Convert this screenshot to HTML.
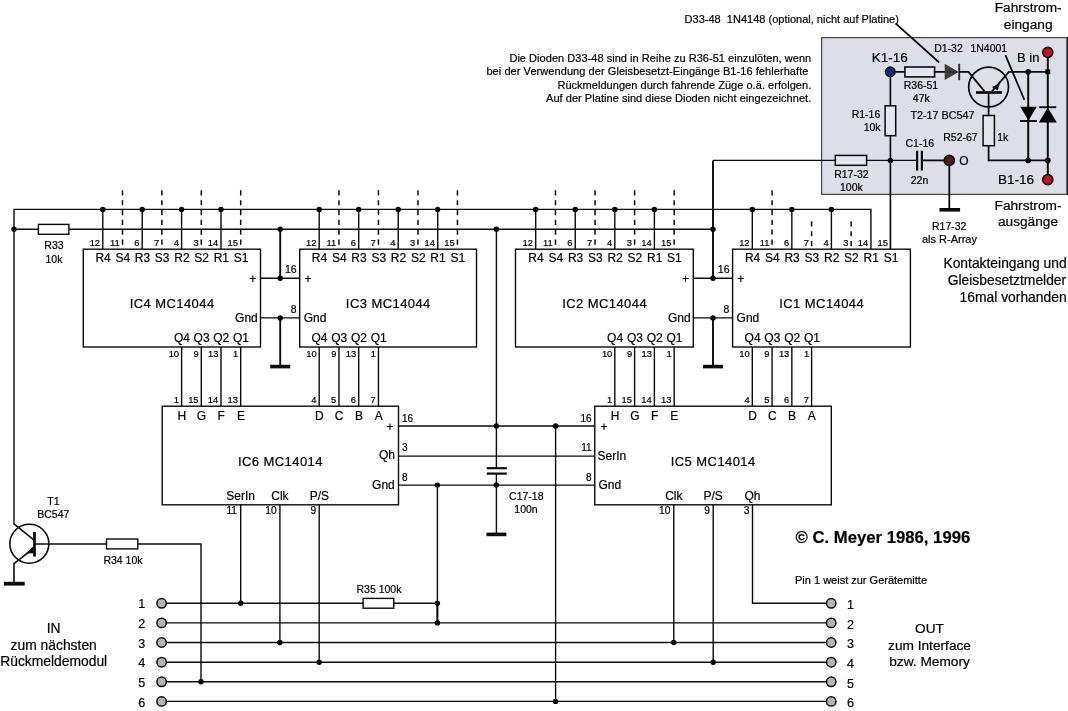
<!DOCTYPE html>
<html><head><meta charset="utf-8"><title>Schaltplan</title>
<style>
html,body{margin:0;padding:0;background:#fff;}
body{width:1068px;height:711px;overflow:hidden;font-family:"Liberation Sans",sans-serif;}
svg{display:block;will-change:transform;}
svg text{font-family:"Liberation Sans",sans-serif;}
</style></head><body>
<svg width="1068" height="711" viewBox="0 0 1068 711" stroke="#0a0a0a" fill="none" stroke-linecap="butt" stroke-linejoin="miter">
<rect x="0" y="0" width="1068" height="711" fill="#fff" stroke="none"/>
<rect x="821.6" y="37.6" width="245.6" height="156.8" fill="#dddee7" stroke="#44454c" stroke-width="1.2"/>
<line x1="1067.3" y1="37" x2="1067.3" y2="195" stroke-width="1.5" stroke="#26262a"/>
<polyline points="14.0,525 14.0,209.4 870.92,209.4 870.92,249.2" stroke-width="1.4" fill="none" />
<line x1="14.0" y1="229.2" x2="713" y2="229.2" stroke-width="1.4" />
<rect x="38.4" y="224.4" width="30.5" height="9.9" fill="#fff" stroke-width="1.4"/>
<circle cx="14.0" cy="229.2" r="2.7" fill="#000" stroke="none"/>
<line x1="102.8" y1="209.4" x2="102.8" y2="249.2" stroke-width="1.4" />
<circle cx="102.8" cy="209.4" r="2.7" fill="#000" stroke="none"/>
<line x1="142.2" y1="209.4" x2="142.2" y2="249.2" stroke-width="1.4" />
<circle cx="142.2" cy="209.4" r="2.7" fill="#000" stroke="none"/>
<line x1="181.6" y1="209.4" x2="181.6" y2="249.2" stroke-width="1.4" />
<circle cx="181.6" cy="209.4" r="2.7" fill="#000" stroke="none"/>
<line x1="221.0" y1="209.4" x2="221.0" y2="249.2" stroke-width="1.4" />
<circle cx="221.0" cy="209.4" r="2.7" fill="#000" stroke="none"/>
<line x1="122.5" y1="190.3" x2="122.5" y2="249.2" stroke-width="1.5" stroke-dasharray="5.2 4.63"/>
<line x1="161.9" y1="190.3" x2="161.9" y2="249.2" stroke-width="1.5" stroke-dasharray="5.2 4.63"/>
<line x1="201.3" y1="190.3" x2="201.3" y2="249.2" stroke-width="1.5" stroke-dasharray="5.2 4.63"/>
<line x1="240.7" y1="190.3" x2="240.7" y2="249.2" stroke-width="1.5" stroke-dasharray="5.2 4.63"/>
<line x1="319.2" y1="209.4" x2="319.2" y2="249.2" stroke-width="1.4" />
<circle cx="319.2" cy="209.4" r="2.7" fill="#000" stroke="none"/>
<line x1="358.7" y1="209.4" x2="358.7" y2="249.2" stroke-width="1.4" />
<circle cx="358.7" cy="209.4" r="2.7" fill="#000" stroke="none"/>
<line x1="398.2" y1="209.4" x2="398.2" y2="249.2" stroke-width="1.4" />
<circle cx="398.2" cy="209.4" r="2.7" fill="#000" stroke="none"/>
<line x1="437.7" y1="209.4" x2="437.7" y2="249.2" stroke-width="1.4" />
<circle cx="437.7" cy="209.4" r="2.7" fill="#000" stroke="none"/>
<line x1="338.95" y1="190.3" x2="338.95" y2="249.2" stroke-width="1.5" stroke-dasharray="5.2 4.63"/>
<line x1="378.45" y1="190.3" x2="378.45" y2="249.2" stroke-width="1.5" stroke-dasharray="5.2 4.63"/>
<line x1="417.95" y1="190.3" x2="417.95" y2="249.2" stroke-width="1.5" stroke-dasharray="5.2 4.63"/>
<line x1="457.45" y1="190.3" x2="457.45" y2="249.2" stroke-width="1.5" stroke-dasharray="5.2 4.63"/>
<line x1="535.7" y1="209.4" x2="535.7" y2="249.2" stroke-width="1.4" />
<circle cx="535.7" cy="209.4" r="2.7" fill="#000" stroke="none"/>
<line x1="575.26" y1="209.4" x2="575.26" y2="249.2" stroke-width="1.4" />
<circle cx="575.26" cy="209.4" r="2.7" fill="#000" stroke="none"/>
<line x1="614.82" y1="209.4" x2="614.82" y2="249.2" stroke-width="1.4" />
<circle cx="614.82" cy="209.4" r="2.7" fill="#000" stroke="none"/>
<line x1="654.38" y1="209.4" x2="654.38" y2="249.2" stroke-width="1.4" />
<circle cx="654.38" cy="209.4" r="2.7" fill="#000" stroke="none"/>
<line x1="555.48" y1="190.3" x2="555.48" y2="249.2" stroke-width="1.5" stroke-dasharray="5.2 4.63"/>
<line x1="595.04" y1="190.3" x2="595.04" y2="249.2" stroke-width="1.5" stroke-dasharray="5.2 4.63"/>
<line x1="634.6" y1="190.3" x2="634.6" y2="249.2" stroke-width="1.5" stroke-dasharray="5.2 4.63"/>
<line x1="674.16" y1="190.3" x2="674.16" y2="249.2" stroke-width="1.5" stroke-dasharray="5.2 4.63"/>
<line x1="752.3" y1="209.4" x2="752.3" y2="249.2" stroke-width="1.4" />
<circle cx="752.3" cy="209.4" r="2.7" fill="#000" stroke="none"/>
<line x1="791.84" y1="209.4" x2="791.84" y2="249.2" stroke-width="1.4" />
<circle cx="791.84" cy="209.4" r="2.7" fill="#000" stroke="none"/>
<line x1="831.38" y1="209.4" x2="831.38" y2="249.2" stroke-width="1.4" />
<circle cx="831.38" cy="209.4" r="2.7" fill="#000" stroke="none"/>
<line x1="772.07" y1="190.3" x2="772.07" y2="249.2" stroke-width="1.5" stroke-dasharray="5.2 4.63"/>
<line x1="811.61" y1="221.3" x2="811.61" y2="249.2" stroke-width="1.5" stroke-dasharray="5.2 4.63"/>
<line x1="851.15" y1="221.3" x2="851.15" y2="249.2" stroke-width="1.5" stroke-dasharray="5.2 4.63"/>
<rect x="83.3" y="249.2" width="177.2" height="97.8" fill="#fff" stroke-width="1.4"/>
<rect x="299.7" y="249.2" width="176.8" height="97.8" fill="#fff" stroke-width="1.4"/>
<rect x="515.5" y="249.2" width="177.8" height="97.8" fill="#fff" stroke-width="1.4"/>
<rect x="732.6" y="249.2" width="177.8" height="97.8" fill="#fff" stroke-width="1.4"/>
<line x1="260.5" y1="278.3" x2="299.7" y2="278.3" stroke-width="1.4" />
<line x1="260.5" y1="317.9" x2="299.7" y2="317.9" stroke-width="1.4" />
<line x1="280.2" y1="229.2" x2="280.2" y2="278.3" stroke-width="1.9" />
<line x1="280.2" y1="317.9" x2="280.2" y2="366.6" stroke-width="1.9" />
<circle cx="280.2" cy="229.2" r="2.7" fill="#000" stroke="none"/>
<circle cx="280.2" cy="278.3" r="2.7" fill="#000" stroke="none"/>
<circle cx="280.2" cy="317.9" r="2.7" fill="#000" stroke="none"/>
<line x1="270.2" y1="366.6" x2="290.2" y2="366.6" stroke-width="3.6" />
<line x1="693.3" y1="278.3" x2="732.6" y2="278.3" stroke-width="1.4" />
<line x1="693.3" y1="317.9" x2="732.6" y2="317.9" stroke-width="1.4" />
<line x1="713.0" y1="160.4" x2="713.0" y2="278.3" stroke-width="1.9" />
<line x1="713.0" y1="317.9" x2="713.0" y2="366.6" stroke-width="1.9" />
<circle cx="713.0" cy="229.2" r="2.7" fill="#000" stroke="none"/>
<circle cx="713.0" cy="278.3" r="2.7" fill="#000" stroke="none"/>
<circle cx="713.0" cy="317.9" r="2.7" fill="#000" stroke="none"/>
<line x1="703.0" y1="366.6" x2="723.0" y2="366.6" stroke-width="3.6" />
<line x1="181.6" y1="347.0" x2="181.6" y2="406.2" stroke-width="1.4" />
<line x1="201.3" y1="347.0" x2="201.3" y2="406.2" stroke-width="1.4" />
<line x1="221.0" y1="347.0" x2="221.0" y2="406.2" stroke-width="1.4" />
<line x1="240.7" y1="347.0" x2="240.7" y2="406.2" stroke-width="1.4" />
<line x1="614.82" y1="347.0" x2="614.82" y2="406.2" stroke-width="1.4" />
<line x1="634.6" y1="347.0" x2="634.6" y2="406.2" stroke-width="1.4" />
<line x1="654.38" y1="347.0" x2="654.38" y2="406.2" stroke-width="1.4" />
<line x1="674.16" y1="347.0" x2="674.16" y2="406.2" stroke-width="1.4" />
<line x1="319.2" y1="347.0" x2="319.2" y2="406.2" stroke-width="1.4" />
<line x1="338.95" y1="347.0" x2="338.95" y2="406.2" stroke-width="1.4" />
<line x1="358.7" y1="347.0" x2="358.7" y2="406.2" stroke-width="1.4" />
<line x1="378.45" y1="347.0" x2="378.45" y2="406.2" stroke-width="1.4" />
<line x1="752.3" y1="347.0" x2="752.3" y2="406.2" stroke-width="1.4" />
<line x1="772.07" y1="347.0" x2="772.07" y2="406.2" stroke-width="1.4" />
<line x1="791.84" y1="347.0" x2="791.84" y2="406.2" stroke-width="1.4" />
<line x1="811.61" y1="347.0" x2="811.61" y2="406.2" stroke-width="1.4" />
<rect x="162.2" y="406.2" width="236.3" height="98.6" fill="#fff" stroke-width="1.4"/>
<rect x="594.8" y="406.2" width="236.5" height="98.6" fill="#fff" stroke-width="1.4"/>
<line x1="398.5" y1="426.0" x2="594.8" y2="426.0" stroke-width="1.4" />
<line x1="398.5" y1="456.1" x2="594.8" y2="456.1" stroke-width="1.4" />
<line x1="398.5" y1="485.1" x2="594.8" y2="485.1" stroke-width="1.4" />
<line x1="496.4" y1="229.2" x2="496.4" y2="468.2" stroke-width="1.4" />
<line x1="496.4" y1="473.4" x2="496.4" y2="534.4" stroke-width="1.4" />
<line x1="486.8" y1="468.2" x2="506.8" y2="468.2" stroke-width="2.2" />
<line x1="486.8" y1="473.6" x2="506.8" y2="473.6" stroke-width="2.2" />
<line x1="486.4" y1="534.4" x2="506.4" y2="534.4" stroke-width="3.6" />
<circle cx="496.4" cy="229.2" r="2.7" fill="#000" stroke="none"/>
<circle cx="496.4" cy="426.0" r="2.7" fill="#000" stroke="none"/>
<circle cx="496.4" cy="485.1" r="2.7" fill="#000" stroke="none"/>
<line x1="555.6" y1="426.0" x2="555.6" y2="701.4" stroke-width="1.4" />
<circle cx="555.6" cy="426.0" r="2.7" fill="#000" stroke="none"/>
<circle cx="555.6" cy="701.4" r="2.7" fill="#000" stroke="none"/>
<line x1="437.4" y1="485.1" x2="437.4" y2="622.9" stroke-width="1.4" />
<line x1="437.4" y1="603.3" x2="437.4" y2="622.9" stroke-width="1.9" />
<circle cx="437.4" cy="485.1" r="2.7" fill="#000" stroke="none"/>
<circle cx="437.4" cy="603.3" r="2.7" fill="#000" stroke="none"/>
<circle cx="437.4" cy="622.9" r="2.7" fill="#000" stroke="none"/>
<line x1="240.7" y1="504.8" x2="240.7" y2="603.3" stroke-width="1.4" />
<circle cx="240.7" cy="603.3" r="2.7" fill="#000" stroke="none"/>
<line x1="279.9" y1="504.8" x2="279.9" y2="642.5" stroke-width="1.4" />
<circle cx="279.9" cy="642.5" r="2.7" fill="#000" stroke="none"/>
<line x1="319.2" y1="504.8" x2="319.2" y2="662.2" stroke-width="1.4" />
<circle cx="319.2" cy="662.2" r="2.7" fill="#000" stroke="none"/>
<line x1="673.8" y1="504.8" x2="673.8" y2="642.5" stroke-width="1.4" />
<circle cx="673.8" cy="642.5" r="2.7" fill="#000" stroke="none"/>
<line x1="713.2" y1="504.8" x2="713.2" y2="662.2" stroke-width="1.4" />
<circle cx="713.2" cy="662.2" r="2.7" fill="#000" stroke="none"/>
<polyline points="752.5,504.8 752.5,603.3 831.2,603.3" stroke-width="1.4" fill="none" />
<line x1="161.6" y1="603.3" x2="437.4" y2="603.3" stroke-width="1.4" />
<rect x="363.1" y="598.4" width="30.7" height="9.8" fill="#fff" stroke-width="1.4"/>
<line x1="161.6" y1="622.9" x2="831.2" y2="622.9" stroke-width="1.4" />
<line x1="161.6" y1="642.5" x2="831.2" y2="642.5" stroke-width="1.4" />
<line x1="161.6" y1="662.2" x2="831.2" y2="662.2" stroke-width="1.4" />
<line x1="161.6" y1="681.8" x2="831.2" y2="681.8" stroke-width="1.4" />
<line x1="161.6" y1="701.4" x2="831.2" y2="701.4" stroke-width="1.4" />
<polyline points="34.5,544.0 201.0,544.0 201.0,681.8" stroke-width="1.4" fill="none" />
<circle cx="201.0" cy="681.8" r="2.7" fill="#000" stroke="none"/>
<rect x="106.5" y="539.0" width="31.3" height="9.9" fill="#fff" stroke-width="1.4"/>
<circle cx="29.35" cy="543.75" r="19.5" fill="none" stroke-width="1.6"/>
<line x1="34.5" y1="532.0" x2="34.5" y2="556.6" stroke-width="2.7" />
<polyline points="14.0,523.9 34.4,540.3" stroke-width="1.6" fill="none" />
<polyline points="34.4,547.6 14.0,563.6 14.0,583.7" stroke-width="1.6" fill="none" />
<polygon points="25.8,553.6 33.4,546.2 33.4,553.2" fill="#000" stroke="none"/>
<line x1="3.9000000000000004" y1="583.7" x2="24.700000000000003" y2="583.7" stroke-width="3.8" />
<circle cx="161.6" cy="603.3" r="4.7" fill="#b4b4b4" stroke-width="1.5"/>
<circle cx="831.2" cy="603.3" r="4.7" fill="#b4b4b4" stroke-width="1.5"/>
<circle cx="161.6" cy="622.9" r="4.7" fill="#b4b4b4" stroke-width="1.5"/>
<circle cx="831.2" cy="622.9" r="4.7" fill="#b4b4b4" stroke-width="1.5"/>
<circle cx="161.6" cy="642.5" r="4.7" fill="#b4b4b4" stroke-width="1.5"/>
<circle cx="831.2" cy="642.5" r="4.7" fill="#b4b4b4" stroke-width="1.5"/>
<circle cx="161.6" cy="662.2" r="4.7" fill="#b4b4b4" stroke-width="1.5"/>
<circle cx="831.2" cy="662.2" r="4.7" fill="#b4b4b4" stroke-width="1.5"/>
<circle cx="161.6" cy="681.8" r="4.7" fill="#b4b4b4" stroke-width="1.5"/>
<circle cx="831.2" cy="681.8" r="4.7" fill="#b4b4b4" stroke-width="1.5"/>
<circle cx="161.6" cy="701.4" r="4.7" fill="#b4b4b4" stroke-width="1.5"/>
<circle cx="831.2" cy="701.4" r="4.7" fill="#b4b4b4" stroke-width="1.5"/>
<line x1="890.4" y1="71.9" x2="890.4" y2="249.2" stroke-width="1.65" />
<polyline points="713.0,160.4 917.1,160.4" stroke-width="1.35" fill="none" />
<line x1="921.9" y1="160.4" x2="949.3" y2="160.4" stroke-width="1.8" />
<line x1="917.1" y1="150.8" x2="917.1" y2="170.6" stroke-width="2.2" />
<line x1="921.9" y1="150.8" x2="921.9" y2="170.6" stroke-width="2.2" />
<line x1="949.3" y1="160.4" x2="949.3" y2="209.8" stroke-width="1.8" />
<line x1="939.5" y1="209.8" x2="960.0999999999999" y2="209.8" stroke-width="3.6" />
<rect x="835.3" y="155.4" width="31.3" height="9.9" fill="#e4e5ed" stroke-width="1.5"/>
<rect x="885.1" y="105.8" width="10.6" height="29.9" fill="#e4e5ed" stroke-width="1.5"/>
<circle cx="890.4" cy="160.4" r="2.7" fill="#000" stroke="none"/>
<line x1="890.4" y1="71.9" x2="945" y2="71.9" stroke-width="1.8" />
<rect x="904.9" y="67.0" width="29.7" height="9.9" fill="#e4e5ed" stroke-width="1.6"/>
<polygon points="944.7,63.7 944.7,80.1 958.8,71.9" fill="#3e3e3e" stroke="none"/>
<line x1="946.5" y1="71.9" x2="957" y2="71.9" stroke-width="1.6" stroke="#1c1c1c" stroke-dasharray="1.6 1.6"/>
<line x1="959.2" y1="63.8" x2="959.2" y2="80.2" stroke-width="1.9" stroke="#2a2a2a"/>
<polyline points="959,71.9 968.5,71.9 984.8,91.6" stroke-width="1.8" fill="none" />
<polyline points="991.7,91.6 1008.9,71.9 1047.8,71.9" stroke-width="1.8" fill="none" />
<circle cx="988.6" cy="87.0" r="19.9" fill="none" stroke-width="1.7"/>
<line x1="976.0" y1="92.5" x2="1001.9" y2="92.5" stroke-width="2.7" />
<polygon points="992.0,87.1 999.8,83.5 997.8,90.5" fill="#000" stroke="none"/>
<line x1="988.6" y1="92.5" x2="988.6" y2="115.5" stroke-width="1.8" />
<rect x="983.1" y="115.5" width="11.3" height="30.2" fill="#e4e5ed" stroke-width="1.5"/>
<polyline points="988.6,145.7 988.6,160.4 1047.8,160.4" stroke-width="1.8" fill="none" />
<line x1="1047.8" y1="52.3" x2="1047.8" y2="179.7" stroke-width="2.0" />
<line x1="1028.2" y1="71.9" x2="1028.2" y2="160.4" stroke-width="2.0" />
<circle cx="1028.2" cy="71.9" r="2.8" fill="#000" stroke="none"/>
<rect x="1045.4" y="69.4" width="4.8" height="4.8" fill="#000" stroke="none"/>
<circle cx="1028.2" cy="160.4" r="2.8" fill="#000" stroke="none"/>
<circle cx="1047.8" cy="160.4" r="2.8" fill="#000" stroke="none"/>
<polygon points="1020.2,106.8 1036.8,106.8 1028.5,120.4" fill="#000" stroke="none"/>
<line x1="1020.0" y1="121.0" x2="1036.9" y2="121.0" stroke-width="1.9" />
<polygon points="1038.8,122.4 1056.8,122.4 1047.8,107.6" fill="#000" stroke="none"/>
<line x1="1039.2" y1="107.2" x2="1056.2" y2="107.2" stroke-width="1.9" />
<line x1="1005.4" y1="55.2" x2="1024.4" y2="99.9" stroke-width="1.75" />
<line x1="895.6" y1="23.4" x2="939.2" y2="62.5" stroke-width="1.75" />
<circle cx="890.3" cy="71.8" r="4.8" fill="#0a2c7e" stroke-width="1.4"/>
<circle cx="1047.8" cy="52.3" r="5.0" fill="#c8121f" stroke-width="1.7"/>
<circle cx="1047.8" cy="179.7" r="5.0" fill="#c8121f" stroke-width="1.7"/>
<circle cx="949.3" cy="160.4" r="5.0" fill="#5c1a1c" stroke-width="1.7"/>
<g fill="#000" stroke="#000" stroke-width="0.2">
<text x="103.1" y="262.3" font-size="12" text-anchor="middle">R4</text>
<text x="100.1" y="246.0" font-size="9.4" text-anchor="end">12</text>
<text x="122.8" y="262.3" font-size="12" text-anchor="middle">S4</text>
<text x="119.8" y="246.0" font-size="9.4" text-anchor="end">11</text>
<text x="142.5" y="262.3" font-size="12" text-anchor="middle">R3</text>
<text x="139.5" y="246.0" font-size="9.4" text-anchor="end">6</text>
<text x="162.20000000000002" y="262.3" font-size="12" text-anchor="middle">S3</text>
<text x="159.20000000000002" y="246.0" font-size="9.4" text-anchor="end">7</text>
<text x="181.9" y="262.3" font-size="12" text-anchor="middle">R2</text>
<text x="178.9" y="246.0" font-size="9.4" text-anchor="end">4</text>
<text x="201.60000000000002" y="262.3" font-size="12" text-anchor="middle">S2</text>
<text x="198.60000000000002" y="246.0" font-size="9.4" text-anchor="end">3</text>
<text x="221.3" y="262.3" font-size="12" text-anchor="middle">R1</text>
<text x="218.3" y="246.0" font-size="9.4" text-anchor="end">14</text>
<text x="241.0" y="262.3" font-size="12" text-anchor="middle">S1</text>
<text x="238.0" y="246.0" font-size="9.4" text-anchor="end">15</text>
<text x="181.9" y="341.8" font-size="12" text-anchor="middle">Q4</text>
<text x="179.1" y="357.1" font-size="9.4" text-anchor="end">10</text>
<text x="201.60000000000002" y="341.8" font-size="12" text-anchor="middle">Q3</text>
<text x="198.8" y="357.1" font-size="9.4" text-anchor="end">9</text>
<text x="221.3" y="341.8" font-size="12" text-anchor="middle">Q2</text>
<text x="218.5" y="357.1" font-size="9.4" text-anchor="end">13</text>
<text x="241.0" y="341.8" font-size="12" text-anchor="middle">Q1</text>
<text x="238.2" y="357.1" font-size="9.4" text-anchor="end">1</text>
<text x="171.9" y="308.2" font-size="13" text-anchor="middle" textLength="84.5" lengthAdjust="spacing">IC4 MC14044</text>
<text x="252.8" y="283.2" font-size="12" text-anchor="middle">+</text>
<text x="257.8" y="321.6" font-size="12" text-anchor="end">Gnd</text>
<text x="319.5" y="262.3" font-size="12" text-anchor="middle">R4</text>
<text x="316.5" y="246.0" font-size="9.4" text-anchor="end">12</text>
<text x="339.25" y="262.3" font-size="12" text-anchor="middle">S4</text>
<text x="336.25" y="246.0" font-size="9.4" text-anchor="end">11</text>
<text x="359.0" y="262.3" font-size="12" text-anchor="middle">R3</text>
<text x="356.0" y="246.0" font-size="9.4" text-anchor="end">6</text>
<text x="378.75" y="262.3" font-size="12" text-anchor="middle">S3</text>
<text x="375.75" y="246.0" font-size="9.4" text-anchor="end">7</text>
<text x="398.5" y="262.3" font-size="12" text-anchor="middle">R2</text>
<text x="395.5" y="246.0" font-size="9.4" text-anchor="end">4</text>
<text x="418.25" y="262.3" font-size="12" text-anchor="middle">S2</text>
<text x="415.25" y="246.0" font-size="9.4" text-anchor="end">3</text>
<text x="438.0" y="262.3" font-size="12" text-anchor="middle">R1</text>
<text x="435.0" y="246.0" font-size="9.4" text-anchor="end">14</text>
<text x="457.75" y="262.3" font-size="12" text-anchor="middle">S1</text>
<text x="454.75" y="246.0" font-size="9.4" text-anchor="end">15</text>
<text x="319.5" y="341.8" font-size="12" text-anchor="middle">Q4</text>
<text x="316.7" y="357.1" font-size="9.4" text-anchor="end">10</text>
<text x="339.25" y="341.8" font-size="12" text-anchor="middle">Q3</text>
<text x="336.45" y="357.1" font-size="9.4" text-anchor="end">9</text>
<text x="359.0" y="341.8" font-size="12" text-anchor="middle">Q2</text>
<text x="356.2" y="357.1" font-size="9.4" text-anchor="end">13</text>
<text x="378.75" y="341.8" font-size="12" text-anchor="middle">Q1</text>
<text x="375.95" y="357.1" font-size="9.4" text-anchor="end">1</text>
<text x="388.1" y="308.2" font-size="13" text-anchor="middle" textLength="84.5" lengthAdjust="spacing">IC3 MC14044</text>
<text x="307.9" y="283.2" font-size="12" text-anchor="middle">+</text>
<text x="303.7" y="321.6" font-size="12">Gnd</text>
<text x="536.0" y="262.3" font-size="12" text-anchor="middle">R4</text>
<text x="533.0" y="246.0" font-size="9.4" text-anchor="end">12</text>
<text x="555.78" y="262.3" font-size="12" text-anchor="middle">S4</text>
<text x="552.78" y="246.0" font-size="9.4" text-anchor="end">11</text>
<text x="575.56" y="262.3" font-size="12" text-anchor="middle">R3</text>
<text x="572.56" y="246.0" font-size="9.4" text-anchor="end">6</text>
<text x="595.3399999999999" y="262.3" font-size="12" text-anchor="middle">S3</text>
<text x="592.3399999999999" y="246.0" font-size="9.4" text-anchor="end">7</text>
<text x="615.12" y="262.3" font-size="12" text-anchor="middle">R2</text>
<text x="612.12" y="246.0" font-size="9.4" text-anchor="end">4</text>
<text x="634.9" y="262.3" font-size="12" text-anchor="middle">S2</text>
<text x="631.9" y="246.0" font-size="9.4" text-anchor="end">3</text>
<text x="654.68" y="262.3" font-size="12" text-anchor="middle">R1</text>
<text x="651.68" y="246.0" font-size="9.4" text-anchor="end">14</text>
<text x="674.4599999999999" y="262.3" font-size="12" text-anchor="middle">S1</text>
<text x="671.4599999999999" y="246.0" font-size="9.4" text-anchor="end">15</text>
<text x="615.12" y="341.8" font-size="12" text-anchor="middle">Q4</text>
<text x="612.32" y="357.1" font-size="9.4" text-anchor="end">10</text>
<text x="634.9" y="341.8" font-size="12" text-anchor="middle">Q3</text>
<text x="632.1" y="357.1" font-size="9.4" text-anchor="end">9</text>
<text x="654.68" y="341.8" font-size="12" text-anchor="middle">Q2</text>
<text x="651.88" y="357.1" font-size="9.4" text-anchor="end">13</text>
<text x="674.4599999999999" y="341.8" font-size="12" text-anchor="middle">Q1</text>
<text x="671.66" y="357.1" font-size="9.4" text-anchor="end">1</text>
<text x="604.4" y="308.2" font-size="13" text-anchor="middle" textLength="84.5" lengthAdjust="spacing">IC2 MC14044</text>
<text x="685.5999999999999" y="283.2" font-size="12" text-anchor="middle">+</text>
<text x="690.5999999999999" y="321.6" font-size="12" text-anchor="end">Gnd</text>
<text x="752.5999999999999" y="262.3" font-size="12" text-anchor="middle">R4</text>
<text x="749.5999999999999" y="246.0" font-size="9.4" text-anchor="end">12</text>
<text x="772.37" y="262.3" font-size="12" text-anchor="middle">S4</text>
<text x="769.37" y="246.0" font-size="9.4" text-anchor="end">11</text>
<text x="792.14" y="262.3" font-size="12" text-anchor="middle">R3</text>
<text x="789.14" y="246.0" font-size="9.4" text-anchor="end">6</text>
<text x="811.91" y="262.3" font-size="12" text-anchor="middle">S3</text>
<text x="808.91" y="246.0" font-size="9.4" text-anchor="end">7</text>
<text x="831.68" y="262.3" font-size="12" text-anchor="middle">R2</text>
<text x="828.68" y="246.0" font-size="9.4" text-anchor="end">4</text>
<text x="851.4499999999999" y="262.3" font-size="12" text-anchor="middle">S2</text>
<text x="848.4499999999999" y="246.0" font-size="9.4" text-anchor="end">3</text>
<text x="871.2199999999999" y="262.3" font-size="12" text-anchor="middle">R1</text>
<text x="868.2199999999999" y="246.0" font-size="9.4" text-anchor="end">14</text>
<text x="890.99" y="262.3" font-size="12" text-anchor="middle">S1</text>
<text x="887.99" y="246.0" font-size="9.4" text-anchor="end">15</text>
<text x="752.5999999999999" y="341.8" font-size="12" text-anchor="middle">Q4</text>
<text x="749.8" y="357.1" font-size="9.4" text-anchor="end">10</text>
<text x="772.37" y="341.8" font-size="12" text-anchor="middle">Q3</text>
<text x="769.57" y="357.1" font-size="9.4" text-anchor="end">9</text>
<text x="792.14" y="341.8" font-size="12" text-anchor="middle">Q2</text>
<text x="789.34" y="357.1" font-size="9.4" text-anchor="end">13</text>
<text x="811.91" y="341.8" font-size="12" text-anchor="middle">Q1</text>
<text x="809.11" y="357.1" font-size="9.4" text-anchor="end">1</text>
<text x="821.5" y="308.2" font-size="13" text-anchor="middle" textLength="84.5" lengthAdjust="spacing">IC1 MC14044</text>
<text x="740.8000000000001" y="283.2" font-size="12" text-anchor="middle">+</text>
<text x="736.6" y="321.6" font-size="12">Gnd</text>
<text x="296.7" y="273.4" font-size="10.6" text-anchor="end">16</text>
<text x="296.5" y="313.1" font-size="10.4" text-anchor="end">8</text>
<text x="729.6" y="273.4" font-size="10.6" text-anchor="end">16</text>
<text x="729.4" y="313.1" font-size="10.4" text-anchor="end">8</text>
<text x="178.9" y="402.7" font-size="9.4" text-anchor="end">1</text>
<text x="181.79999999999998" y="419.6" font-size="12" text-anchor="middle">H</text>
<text x="198.60000000000002" y="402.7" font-size="9.4" text-anchor="end">15</text>
<text x="201.5" y="419.6" font-size="12" text-anchor="middle">G</text>
<text x="218.3" y="402.7" font-size="9.4" text-anchor="end">14</text>
<text x="221.2" y="419.6" font-size="12" text-anchor="middle">F</text>
<text x="238.0" y="402.7" font-size="9.4" text-anchor="end">13</text>
<text x="240.89999999999998" y="419.6" font-size="12" text-anchor="middle">E</text>
<text x="316.5" y="402.7" font-size="9.4" text-anchor="end">4</text>
<text x="319.4" y="419.6" font-size="12" text-anchor="middle">D</text>
<text x="336.25" y="402.7" font-size="9.4" text-anchor="end">5</text>
<text x="339.15" y="419.6" font-size="12" text-anchor="middle">C</text>
<text x="356.0" y="402.7" font-size="9.4" text-anchor="end">6</text>
<text x="358.9" y="419.6" font-size="12" text-anchor="middle">B</text>
<text x="375.75" y="402.7" font-size="9.4" text-anchor="end">7</text>
<text x="378.65" y="419.6" font-size="12" text-anchor="middle">A</text>
<text x="612.12" y="402.7" font-size="9.4" text-anchor="end">1</text>
<text x="615.0200000000001" y="419.6" font-size="12" text-anchor="middle">H</text>
<text x="631.9" y="402.7" font-size="9.4" text-anchor="end">15</text>
<text x="634.8000000000001" y="419.6" font-size="12" text-anchor="middle">G</text>
<text x="651.68" y="402.7" font-size="9.4" text-anchor="end">14</text>
<text x="654.58" y="419.6" font-size="12" text-anchor="middle">F</text>
<text x="671.4599999999999" y="402.7" font-size="9.4" text-anchor="end">13</text>
<text x="674.36" y="419.6" font-size="12" text-anchor="middle">E</text>
<text x="749.5999999999999" y="402.7" font-size="9.4" text-anchor="end">4</text>
<text x="752.5" y="419.6" font-size="12" text-anchor="middle">D</text>
<text x="769.37" y="402.7" font-size="9.4" text-anchor="end">5</text>
<text x="772.2700000000001" y="419.6" font-size="12" text-anchor="middle">C</text>
<text x="789.14" y="402.7" font-size="9.4" text-anchor="end">6</text>
<text x="792.0400000000001" y="419.6" font-size="12" text-anchor="middle">B</text>
<text x="808.91" y="402.7" font-size="9.4" text-anchor="end">7</text>
<text x="811.8100000000001" y="419.6" font-size="12" text-anchor="middle">A</text>
<text x="280.2" y="466.0" font-size="13" text-anchor="middle" textLength="84.5" lengthAdjust="spacing">IC6 MC14014</text>
<text x="713.0" y="466.0" font-size="13" text-anchor="middle" textLength="84.5" lengthAdjust="spacing">IC5 MC14014</text>
<text x="389.9" y="431.0" font-size="12" text-anchor="middle">+</text>
<text x="395.0" y="459.2" font-size="12" text-anchor="end">Qh</text>
<text x="394.8" y="488.6" font-size="12" text-anchor="end">Gnd</text>
<text x="402.0" y="421.8" font-size="10">16</text>
<text x="402.0" y="451.4" font-size="10">3</text>
<text x="402.0" y="480.6" font-size="10">8</text>
<text x="591.6" y="421.8" font-size="10" text-anchor="end">16</text>
<text x="591.6" y="451.4" font-size="10" text-anchor="end">11</text>
<text x="591.6" y="480.6" font-size="10" text-anchor="end">8</text>
<text x="603.9" y="431.0" font-size="12" text-anchor="middle">+</text>
<text x="597.6" y="459.5" font-size="12">SerIn</text>
<text x="598.4" y="488.6" font-size="12">Gnd</text>
<text x="240.7" y="500.3" font-size="12" text-anchor="middle">SerIn</text>
<text x="279.9" y="500.3" font-size="12" text-anchor="middle">Clk</text>
<text x="319.4" y="500.3" font-size="12" text-anchor="middle">P/S</text>
<text x="673.8" y="500.3" font-size="12" text-anchor="middle">Clk</text>
<text x="713.2" y="500.3" font-size="12" text-anchor="middle">P/S</text>
<text x="752.5" y="500.3" font-size="12" text-anchor="middle">Qh</text>
<text x="237.0" y="514.2" font-size="10.2" text-anchor="end">11</text>
<text x="276.6" y="514.2" font-size="10.2" text-anchor="end">10</text>
<text x="316.2" y="514.2" font-size="10.2" text-anchor="end">9</text>
<text x="670.4" y="514.2" font-size="10.2" text-anchor="end">10</text>
<text x="710.0" y="514.2" font-size="10.2" text-anchor="end">9</text>
<text x="749.3" y="514.2" font-size="10.2" text-anchor="end">3</text>
<text x="54.0" y="249.4" font-size="10.5" text-anchor="middle">R33</text>
<text x="54.0" y="262.9" font-size="10.5" text-anchor="middle">10k</text>
<text x="53.5" y="505.2" font-size="10.5" text-anchor="middle">T1</text>
<text x="53.3" y="518.1" font-size="10.5" text-anchor="middle">BC547</text>
<text x="123.0" y="564.2" font-size="10.5" text-anchor="middle">R34 10k</text>
<text x="379.0" y="593.4" font-size="10.5" text-anchor="middle">R35 100k</text>
<text x="526.3" y="499.7" font-size="10.5" text-anchor="middle">C17-18</text>
<text x="526.0" y="512.9" font-size="10.5" text-anchor="middle">100n</text>
<text x="795.6" y="542.7" font-size="16.7" font-weight="bold">© C. Meyer 1986, 1996</text>
<text x="795.0" y="584.0" font-size="11">Pin 1 weist zur Gerätemitte</text>
<text x="141.8" y="608.4" font-size="12.6" text-anchor="middle">1</text>
<text x="850.5" y="609.0" font-size="12.6" text-anchor="middle">1</text>
<text x="141.8" y="628.0" font-size="12.6" text-anchor="middle">2</text>
<text x="850.5" y="628.6" font-size="12.6" text-anchor="middle">2</text>
<text x="141.8" y="647.6" font-size="12.6" text-anchor="middle">3</text>
<text x="850.5" y="648.2" font-size="12.6" text-anchor="middle">3</text>
<text x="141.8" y="667.3000000000001" font-size="12.6" text-anchor="middle">4</text>
<text x="850.5" y="667.9000000000001" font-size="12.6" text-anchor="middle">4</text>
<text x="141.8" y="686.9" font-size="12.6" text-anchor="middle">5</text>
<text x="850.5" y="687.5" font-size="12.6" text-anchor="middle">5</text>
<text x="141.8" y="706.5" font-size="12.6" text-anchor="middle">6</text>
<text x="850.5" y="707.1" font-size="12.6" text-anchor="middle">6</text>
<text x="53.7" y="633.0" font-size="13.85" text-anchor="middle">IN</text>
<text x="53.7" y="649.5" font-size="13.85" text-anchor="middle">zum nächsten</text>
<text x="53.7" y="666.0" font-size="13.85" text-anchor="middle">Rückmeldemodul</text>
<text x="929.5" y="632.7" font-size="13.7" text-anchor="middle">OUT</text>
<text x="929.5" y="650.0" font-size="13.7" text-anchor="middle">zum Interface</text>
<text x="929.5" y="665.9" font-size="13.7" text-anchor="middle">bzw. Memory</text>
<text x="684.6" y="22.6" font-size="11" textLength="214.3" lengthAdjust="spacing" xml:space="preserve">D33-48  1N4148 (optional, nicht auf Platine)</text>
<text x="509.4" y="61.6" font-size="11" textLength="301.8" lengthAdjust="spacing">Die Dioden D33-48 sind in Reihe zu R36-51 einzulöten, wenn</text>
<text x="486.4" y="75.2" font-size="11" textLength="322.0" lengthAdjust="spacing">bei der Verwendung der Gleisbesetzt-Eingänge B1-16 fehlerhafte</text>
<text x="557.4" y="88.5" font-size="11" textLength="253.8" lengthAdjust="spacing">Rückmeldungen durch fahrende Züge o.ä. erfolgen.</text>
<text x="546.0" y="102.1" font-size="11" textLength="265.2" lengthAdjust="spacing">Auf der Platine sind diese Dioden nicht eingezeichnet.</text>
<text x="1028.2" y="12.2" font-size="13.7" text-anchor="middle">Fahrstrom-</text>
<text x="1028.2" y="28.5" font-size="13.7" text-anchor="middle">eingang</text>
<text x="1028.0" y="209.5" font-size="13.7" text-anchor="middle">Fahrstrom-</text>
<text x="1028.0" y="225.7" font-size="13.7" text-anchor="middle">ausgänge</text>
<text x="949.2" y="229.6" font-size="10.5" text-anchor="middle">R17-32</text>
<text x="949.5" y="242.5" font-size="11" text-anchor="middle">als R-Array</text>
<text x="1066.6" y="268.4" font-size="13.85" text-anchor="end">Kontakteingang und</text>
<text x="1066.2" y="285.2" font-size="13.85" text-anchor="end">Gleisbesetztmelder</text>
<text x="1066.6" y="301.5" font-size="13.85" text-anchor="end">16mal vorhanden</text>
<text x="889.8" y="61.8" font-size="13.5" text-anchor="middle">K1-16</text>
<text x="948.5" y="51.9" font-size="10.5" text-anchor="middle">D1-32</text>
<text x="988.8" y="51.9" font-size="10.5" text-anchor="middle">1N4001</text>
<text x="1028.2" y="61.5" font-size="13" text-anchor="middle">B in</text>
<text x="921.0" y="88.5" font-size="10.5" text-anchor="middle">R36-51</text>
<text x="921.3" y="101.5" font-size="10.5" text-anchor="middle">47k</text>
<text x="880.3" y="118.0" font-size="10.5" text-anchor="end">R1-16</text>
<text x="880.6" y="131.0" font-size="10.5" text-anchor="end">10k</text>
<text x="910.4" y="119.1" font-size="10.8">T2-17 BC547</text>
<text x="960.5" y="140.8" font-size="10.5" text-anchor="middle">R52-67</text>
<text x="1002.7" y="140.8" font-size="10.5" text-anchor="middle">1k</text>
<text x="919.8" y="146.8" font-size="10.5" text-anchor="middle">C1-16</text>
<text x="919.5" y="184.2" font-size="10.5" text-anchor="middle">22n</text>
<text x="851.4" y="177.8" font-size="10.5" text-anchor="middle">R17-32</text>
<text x="851.4" y="190.7" font-size="10.5" text-anchor="middle">100k</text>
<text x="963.9" y="165.0" font-size="12" text-anchor="middle">O</text>
<text x="1016.0" y="183.9" font-size="13.5" text-anchor="middle">B1-16</text>
</g>
</svg>
</body></html>
